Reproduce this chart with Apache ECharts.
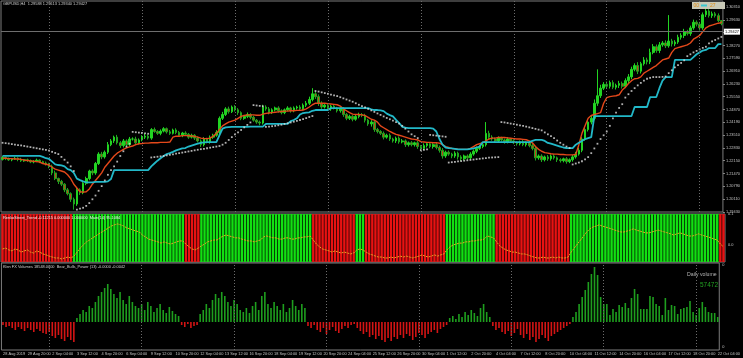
<!DOCTYPE html>
<html><head><meta charset="utf-8">
<script src="https://cdn.jsdelivr.net/npm/echarts@6/dist/echarts.min.js"></script>
<style>html,body{margin:0;padding:0;background:#000;}#c{width:743px;height:358px;}</style>
</head><body><div id="c"></div>
<script>
// ---- texts ----
const titleText = 'GBPUSD,H4  1.29588 1.29613 1.29340 1.29427';
const trendTitle = 'RenkoStreet_Trend -0.11215 0.000000 1.000000  Main(14) 95.1084';
const powerTitle = 'Klen FX Volumes 18548.0000  Bear_Bulls_Power (13) -0.0000 -0.0042';
const dailyVolumeLabel = 'Daily volume';
const dailyVolumeValue = '57472';
const bidPrice = 1.29427;

// ---- x tick labels (one every 8 H4 bars) ----
const xTickLabels = ['28 Aug 2019','29 Aug 20:00','2 Sep 04:00','3 Sep 12:00','4 Sep 20:00','6 Sep 04:00','9 Sep 12:00','10 Sep 20:00','12 Sep 04:00','13 Sep 12:00','16 Sep 20:00','18 Sep 04:00','19 Sep 12:00','20 Sep 20:00','24 Sep 04:00','25 Sep 12:00','26 Sep 20:00','30 Sep 04:00','1 Oct 12:00','2 Oct 20:00','4 Oct 04:00','7 Oct 12:00','8 Oct 20:00','10 Oct 04:00','11 Oct 12:00','14 Oct 20:00','16 Oct 04:00','17 Oct 12:00','18 Oct 20:00','22 Oct 04:00'];
const priceTicks = [1.19430,1.20110,1.20790,1.21470,1.22150,1.22830,1.23510,1.24190,1.24870,1.25550,1.26230,1.26910,1.27590,1.28270,1.28950,1.29630,1.30310];
const gridBars = [15,45,75,105,135,165,195,225];

// ---- prices in units of 0.0001 ----
const firstOpen = 12222;
const closes = [12232,12226,12219,12224,12228,12221,12214,12220,12216,12208,12212,12218,12210,12203,12198,
12185,12150,12120,12105,12090,12060,12040,12010,11985,
12060,12045,12095,12120,12160,12150,12200,12250,12235,12260,12300,12320,12340,12310,
12295,12320,12300,12330,12330,12310,12325,
12340,12345,12335,12380,12370,12360,12372,12385,12368,12360,12378,12365,12350,12362,12355,12340,12350,12335,12320,
12300,12330,12315,12340,
12350,12365,12440,12460,
12490,12475,12500,12485,12470,12440,
12450,12460,12445,12430,12420,12415,
12500,12490,12470,12485,12495,12480,12470,12485,12495,12480,
12495,12500,12490,12510,12520,12540,
12570,12555,12520,
12500,12510,12490,12505,12495,12480,12490,
12460,12440,12450,12435,12450,12460,12455,
12430,12410,12420,12380,12370,
12360,12340,12350,12330,12320,12335,12315,
12320,12300,12310,
12300,12310,12290,12280,12295,12305,12290,12300,12285,12270,
12240,12260,12250,12240,12255,12235,12225,12240,12230,12250,
12265,12280,12290,12300,
12360,12340,
12330,12320,12335,12325,12315,12330,12320,12310,
12305,12315,12300,12310,12295,12280,
12230,12240,12220,12235,12225,12240,12230,12220,
12215,12225,12210,12220,12235,
12250,12270,12330,12380,12420,12440,12520,12560,
12600,12620,12610,12630,12605,
12615,12625,12610,12640,12660,
12700,12720,12690,12730,12750,12740,
12790,12820,12800,12830,
12840,12825,12850,12835,12845,12870,
12880,12900,12890,12920,12950,12940,12920,
12990,13010,12985,
12995,12985,12959,12943];
const wickHi = [8,5,6,4,7,5,9,4,6,5, 6,8,4,5,7,6,9,12,5,8, 6,10,7,9,12,8,6,10,7,9, 8,10,12,9,14,10,8,12,9,10,
8,11,9,12,8,10,14,9,8,11, 7,9,8,6,10,7,9,8,6,9, 7,8,6,9,8,10,7,9,8,12, 10,14,9,12,8,10,9,7,8,11,
7,9,6,8,12,9,10,8,7,9, 8,7,9,6,8,7,10,9,12,15, 30,14,12,10,8,9,7,8,6,9, 10,8,9,7,12,10,8,9,7,10,
8,9,7,10,8,9,7,8,9,10, 8,7,9,6,10,8,12,9,7,8, 9,10,12,8,9,7,10,8,9,7, 8,10,9,11,8,12,60,14,10,8,
9,7,8,10,6,9,8,7,10,8, 9,12,10,8,9,7,10,8,9,7, 8,6,9,7,10,12,14,10,16,12, 15,20,140,18,12,15,10,12,9,14,
10,12,15,14,12,18,10,15,12,20, 14,12,15,10,14,138,12,10,14,12, 15,10,12,14,10,12,12,14,10,12, 10,12,2];
const wickLo = [6,8,5,7,4,9,6,5,8,6, 7,5,8,6,9,10,12,8,14,10, 12,9,14,30,10,12,8,10,9,12, 10,8,12,9,10,8,11,9,12,10,
9,10,8,12,9,7,10,8,9,7, 8,10,7,9,8,6,9,7,10,8, 9,7,10,8,12,9,8,10,9,8, 10,9,8,10,7,9,12,10,8,9,
10,8,9,12,8,10,9,7,8,10, 9,8,7,10,8,9,7,8,10,9, 10,12,14,10,8,9,10,8,9,10, 12,10,9,11,8,10,9,12,10,14,
12,10,9,12,8,10,9,11,10,8, 12,10,9,10,12,9,8,10,9,11, 10,12,14,10,9,12,10,14,12,9, 10,8,9,10,8,9,10,12,9,10,
8,9,10,8,9,7,10,9,8,10, 9,10,14,10,12,9,11,10,9,12, 10,9,11,8,10,9,8,10,9,10, 12,10,14,12,10,14,12,10,12,14,
12,10,14,12,10,15,12,10,14,12, 10,12,14,10,12,10,14,12,10,12, 14,10,12,10,12,14,10,12,10,12, 10,8,9];
const maOrange = [12228,12228,12226,12226,12224,12224,12222,
12218,12216,12214,12212,12210,12208,12200,12196,
12192,12180,12170,12165,12160,12155,12140,12120,12090,12070,12050,12048,12050,12065,
12090,12110,12130,12150,12180,12200,12220,12240,12255,12265,12275,12283,12288,12293,12300,12305,
12306,12308,12308,12310,12310,12310,12312,12312,12312,12314,
12340,12345,12345,12348,12348,12348,12346,12344,12340,
12335,12333,12332,12335,
12345,12360,12380,12400,12410,12420,12425,12430,12440,12450,
12455,12458,12458,12458,12456,12456,
12462,12466,12468,12470,12472,12474,12476,12478,12478,
12480,12480,12482,12482,12484,
12490,12500,12512,12520,12520,12520,12520,12518,
12516,12514,12512,12505,12490,12480,
12470,12462,12460,12460,12458,12455,12445,12435,12430,12420,
12400,12390,12380,12370,12362,12355,12350,
12345,12340,12335,12330,12328,12325,
12316,12314,12312,12312,12310,12310,12308,12300,
12290,12285,12280,12278,12276,12275,12275,12275,
12280,12290,12300,12305,12310,12320,12330,
12335,12335,12338,12338,12338,12336,
12334,12332,12330,12330,12328,12326,12320,12310,
12290,12275,12265,
12258,12255,12252,12250,12250,12248,12248,12246,12246,12246,
12248,12300,12360,12400,12440,12455,12460,12465,12470,12520,12550,12555,12558,12560,12565,12590,12605,12625,12640,12650,12652,12660,12680,12690,12700,12710,12720,12735,12750,12755,12760,12790,12810,12815,12820,12825,12830,12840,12860,12870,12880,12900,12920,12930,12935,12940,12945,12948];
const maCyan = [12240,12240,12240,12240,12240,12240,12240,12240,12240,12240,12240,12240,12240,
12235,12228,12224,
12210,12195,12192,12190,12185,
12170,12165,12150,
12120,12112,12105,
12100,12100,12100,12102,12102,12102,12102,12105,
12118,
12165,12165,12165,12165,12165,12165,12165,12165,12165,12165,12165,12165,
12185,12200,12215,12228,12240,12250,12255,12262,12270,12275,12280,12282,12290,12295,12300,12305,
12310,12312,12314,12314,12314,12314,
12350,12385,
12392,12393,12394,12394,12394,12395,12395,12395,12396,12396,12396,12396,12396,
12410,12410,12410,12410,12410,12410,12410,12410,
12425,12431,12440,
12460,12468,12470,12472,
12480,12484,12484,12484,12484,12484,
12494,12494,12494,12494,12494,12494,12494,12494,12494,12494,12494,12494,12494,
12488,12484,12484,12482,12478,
12465,12457,12450,
12432,12415,
12395,12390,12388,12388,12388,12388,12388,12388,12388,12388,12385,
12370,12330,12300,
12285,12282,12280,12278,12275,12275,12275,12275,12278,12280,
12285,12290,
12314,12314,12314,12314,12314,12314,12314,12314,12314,12314,12314,12314,12314,12314,12314,12314,
12320,12325,12325,12325,12320,
12309,12305,12300,12295,
12290,12285,12282,12282,12282,
12300,12310,12320,12330,12335,12340,
12452,
12452,12452,12452,12452,12452,12452,12452,12452,12452,12452,12452,12452,
12500,12500,12500,12500,12500,
12553,12553,12553,
12600,12640,
12659,12659,12659,
12750,12750,12750,12750,12750,12750,
12765,12780,12790,12800,12803,
12813,12813,12813,
12834,12834];
const sarDots = [12310,12308,12306,12303,12300,12298,12296,12293,12290,12287,12284,12281,12278,12275,12272,
12268,12262,12256,12250,
12235,12220,12205,12185,12160,
11955,11960,11965,11975,11990,12010,12030,12055,12080,12110,12140,12165,12185,12210,12240,12265,12290,
12305,
12368,12366,12364,12362,12360,12358,
12232,12234,12236,12238,12240,12243,12246,12249,12252,12255,12258,12261,12264,12267,12270,12273,12276,
12278,12281,12284,12287,12290,12293,12300,12310,12325,12340,12355,12365,12378,12392,12405,12418,
12510,12508,12506,12504,
12394,12396,12398,12400,12403,12406,12410,12414,12418,12422,12426,12431,12436,12441,12447,12452,
12585,12582,12578,12574,12570,12566,12562,12558,
12552,12546,12540,12534,12528,
12520,12512,12505,12498,12490,12482,12474,
12466,12458,12450,12442,12435,12428,12420,12412,
12400,12385,12370,12355,12345,12335,
12270,12272,12275,
12352,12350,12348,12346,12344,12342,
12205,12207,12209,12211,12213,12215,12217,12219,12221,12223,12225,12227,12229,12231,12232,12233,12234,
12420,12418,12415,12412,12409,12406,12403,12400,12396,12392,12388,12384,12380,12376,
12365,12355,12345,12335,12322,12310,12300,12290,12282,
12195,12200,12205,12212,12222,12234,12255,12280,12305,12330,12350,12370,12400,12440,12470,12495,12515,12550,12568,12585,12600,12615,12628,12640,12650,12655,12659,12659,12659,12660,12662,12680,12695,12710,12722,12734,12748,12770,12780,12790,12798,12806,12814,12820,12838,12848,12856,12864,12872];

// ---- trend indicator pane ----
const trendRuns = [[-1,23],[1,36],[-1,5],[1,36],[-1,14],[1,3],[-1,26],[1,16],[-1,24],[1,48],[-1,2]]; // [state, bars]
const trendLine = [-13,-10,-16,-19,-13,-16,-23,-19,-16,-23,-26,-19,-23,-29,-32,-36,
-39,-42,-42,-45,-42,-39,-42,-36,
-23,-10,0,10,16,23,29,36,42,48,55,61,65,68,
65,61,55,52,48,45,42,32,26,19,16,13,10,6,10,6,3,6,10,13,13,
3,-6,-13,-16,-10,
-3,3,10,13,16,16,23,29,32,29,26,23,23,19,16,13,13,10,13,16,26,29,26,23,23,19,19,23,23,19,19,23,23,26,26,29,
16,3,-6,-13,-16,-19,-23,-19,-23,-26,-23,-26,-29,-26,
-16,-13,-16,
-23,-29,-32,-36,-39,-39,-42,-42,-39,-42,-39,-36,-39,-36,-39,-42,-39,-36,-32,-36,-39,-36,-32,-36,-32,-29,
-16,-6,0,3,6,6,10,10,13,13,16,16,19,29,26,23,
10,-3,-10,-16,-19,-23,-23,-26,-29,-29,-32,-36,-39,-42,-42,-39,-42,-42,-39,-42,-39,-42,-42,-39,
-23,-10,3,16,29,42,52,58,61,65,61,58,55,52,48,45,42,42,45,48,52,48,45,42,39,39,42,45,48,45,42,39,36,32,36,39,36,32,29,29,32,36,32,29,26,23,19,16,
3,-6]; // units of 0.001

// ---- bears/bulls power (units of 0.0002) ----
const powerValues = [-3,-5,-4,-6,-8,-5,-7,-9,-6,-8,-10,-7,-9,-11,-12,-10,-14,-16,-13,-17,-19,-15,-18,-20,
4,8,12,10,16,14,20,26,30,34,38,33,28,24,30,22,18,26,20,16,
14,18,12,20,16,10,14,18,12,9,15,11,8,6,
-3,-5,-2,-6,-4,-3,
8,12,18,14,22,28,24,30,26,20,16,22,18,
12,10,14,9,16,20,12,26,30,18,14,20,16,12,18,10,14,22,16,12,18,14,
-4,-6,-3,-8,-10,-6,-12,-8,-5,-9,-11,-7,-4,-6,-3,-2,
-6,-9,-12,-10,-15,-13,-17,-14,-18,-20,-16,-19,-15,-17,-13,-16,-12,-14,-18,-15,-11,-13,-16,-12,-10,-8,-11,-7,-5,-3,
4,6,3,8,5,10,7,12,9,6,14,18,10,5,
-4,-8,-6,-10,-12,-9,-14,-11,-7,-13,-16,-12,-18,-15,-20,-17,-13,-16,-19,-14,-12,-10,-8,-6,-4,-2,
5,10,18,25,32,40,48,
55,47,25,18,18,7,13,10,17,15,19,14,24,33,28,13,13,13,26,25,18,16,7,24,12,17,16,8,13,14,15,21,10,7,14,20,15,10,9,9,5];

// ---- build ----
const N = closes.length;
const categories = closes.map((_, i) => String(i));
const candleData = [];
let prev = firstOpen;
for (let i = 0; i < N; i++) {
  const o = prev, c = closes[i];
  const hi = Math.max(o, c) + wickHi[i], lo = Math.min(o, c) - wickLo[i];
  candleData.push([o / 1e4, c / 1e4, lo / 1e4, hi / 1e4]);
  prev = c;
}
const trendState = [];
trendRuns.forEach(([s, n]) => { for (let k = 0; k < n; k++) trendState.push(s); });
const P = a => a.map(v => v / 1e4);

const smallFont = 'Liberation Sans';

const chart = echarts.init(document.getElementById('c'), null, { renderer: 'canvas' });
const gridStyle = { show: true, borderColor: '#7c7c7c', borderWidth: 1, backgroundColor: '#000' };
const vLines = { silent: true, symbol: 'none', label: { show: false },
  lineStyle: { color: '#6c6c6c', type: [1, 2], width: 1 },
  data: gridBars.map(b => ({ xAxis: b })) };

chart.setOption({
  backgroundColor: '#000',
  animation: false,
  grid: [
    Object.assign({ left: 1, top: 1, width: 724, height: 211 }, gridStyle),
    Object.assign({ left: 1, top: 214, width: 724, height: 48 }, gridStyle),
    Object.assign({ left: 1, top: 263, width: 724, height: 87 }, gridStyle)
  ],
  xAxis: [0, 1, 2].map(g => ({
    type: 'category', gridIndex: g, data: categories, boundaryGap: true,
    axisLine: { show: false }, axisTick: { show: false }, splitLine: { show: false },
    axisLabel: g === 2 ? {
      show: true, color: '#c4c4c4', fontSize: 3.9, fontFamily: smallFont, margin: 2, align: 'left',
      interval: (idx) => idx % 8 === 0,
      formatter: (v, idx) => xTickLabels[Math.round(Number(v) / 8)] || ''
    } : { show: false }
  })),
  yAxis: [
    { type: 'value', gridIndex: 0, position: 'right', min: 1.19425, max: 1.30629,
      splitLine: { show: false }, axisLine: { show: false },
      axisTick: { show: true, length: 2, lineStyle: { color: '#8a8a8a' }, customValues: priceTicks },
      axisLabel: { color: '#c4c4c4', fontSize: 3.9, fontFamily: smallFont, margin: 3,
        customValues: priceTicks, formatter: v => v.toFixed(5) } },
    { type: 'value', gridIndex: 1, min: 0, max: 1, show: false },
    { type: 'value', gridIndex: 1, position: 'right', min: -55, max: 100,
      splitLine: { show: false }, axisLine: { show: false }, axisTick: { show: false },
      axisLabel: { color: '#c4c4c4', fontSize: 3.9, fontFamily: smallFont, margin: 3,
        customValues: [100, 0], formatter: v => (v / 1000).toFixed(1) } },
    { type: 'value', gridIndex: 2, position: 'right', min: -28, max: 59,
      splitLine: { show: false }, axisLine: { show: false }, axisTick: { show: false },
      axisLabel: { color: '#c4c4c4', fontSize: 3.9, fontFamily: smallFont, margin: 3,
        customValues: [57, -25], formatter: v => String(Math.round(v * 0.0002)) } }
  ],
  series: [
    { type: 'candlestick', xAxisIndex: 0, yAxisIndex: 0, data: candleData, barWidth: 2.1,
      itemStyle: { color: '#22d422', color0: '#c0441c', borderColor: '#22d422', borderColor0: '#1fa81f', borderWidth: 1 },
      markLine: { silent: true, symbol: 'none',
        data: [{ yAxis: bidPrice, lineStyle: { color: '#6e6e6e', type: 'solid', width: 1 },
          label: { show: true, position: 'end', distance: 1, formatter: bidPrice.toFixed(5),
            color: '#000', backgroundColor: '#ffffff', fontSize: 3.9, fontFamily: smallFont, padding: [1, 1] } }] } },
    { type: 'line', xAxisIndex: 0, yAxisIndex: 0, data: P(maOrange), symbol: 'none',
      lineStyle: { color: '#e4481a', width: 1.4 }, markLine: vLines, z: 3 },
    { type: 'line', xAxisIndex: 0, yAxisIndex: 0, data: P(maCyan), symbol: 'none',
      lineStyle: { color: '#22b8c8', width: 1.8 }, z: 3 },
    { type: 'scatter', xAxisIndex: 0, yAxisIndex: 0, data: P(sarDots), symbol: 'rect', symbolSize: [1.8, 1.8],
      itemStyle: { color: '#dcdcdc' }, z: 4 },
    { type: 'bar', xAxisIndex: 1, yAxisIndex: 1, barCategoryGap: '22%',
      data: trendState.map(s => ({ value: 1, itemStyle: { color: s > 0 ? '#12e012' : '#e81212' } })) },
    { type: 'line', xAxisIndex: 1, yAxisIndex: 2, data: trendLine, symbol: 'none', z: 3,
      lineStyle: { color: '#e6a424', width: 1, type: [2, 1] } },
    { type: 'bar', xAxisIndex: 2, yAxisIndex: 3, barWidth: 1.6,
      data: powerValues.map(v => ({ value: v, itemStyle: { color: v >= 0 ? '#1e9e1e' : '#d41414' } })),
      markLine: vLines }
  ],
  graphic: [
    { type: 'text', left: 3, top: 2, style: { text: titleText, fill: '#d0d0d0', fontSize: 3.9, fontFamily: smallFont } },
    { type: 'text', left: 3, top: 216, z: 10, style: { text: trendTitle, fill: '#f0f0f0', fontSize: 3.9, fontFamily: smallFont } },
    { type: 'text', left: 3, top: 265, style: { text: powerTitle, fill: '#d0d0d0', fontSize: 3.9, fontFamily: smallFont } },
    { type: 'text', left: 687, top: 272, style: { text: dailyVolumeLabel, fill: '#b4b4b4', fontSize: 5.2, fontFamily: smallFont } },
    { type: 'text', left: 700, top: 282, style: { text: dailyVolumeValue, fill: '#22a022', fontSize: 6.5, fontFamily: smallFont } },
    { type: 'rect', shape: { x: 692, y: 2, width: 33, height: 7 }, style: { fill: '#c8c8b6' }, z: 10 },
    { type: 'text', x: 693.5, y: 3, z: 11, style: { text: '00', fill: '#e08a10', fontSize: 5, fontFamily: smallFont } },
    { type: 'rect', shape: { x: 701, y: 4.5, width: 6, height: 2 }, style: { fill: '#3cc8d0' }, z: 11 },
    { type: 'text', x: 710, y: 3, z: 11, style: { text: '27', fill: '#e08a10', fontSize: 5, fontFamily: smallFont } }
  ]
});
</script>
</body></html>
